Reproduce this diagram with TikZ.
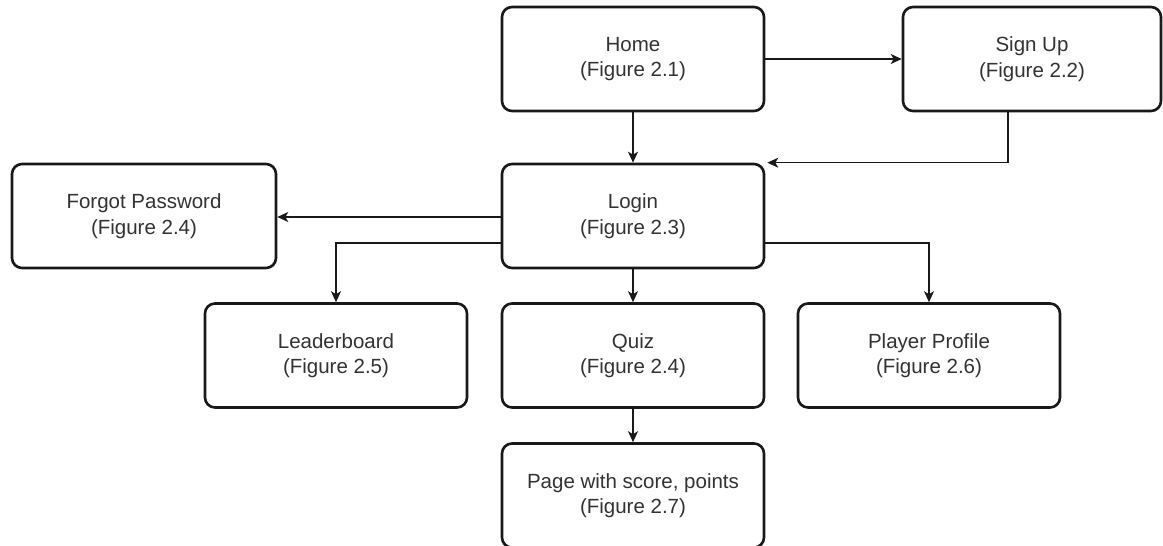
\documentclass[tikz,border=0pt]{standalone}
\usepackage{fontspec}
\setmainfont{Liberation Sans}
\usetikzlibrary{arrows.meta,calc}
\begin{document}
\begin{tikzpicture}[x=1pt,y=-1pt,
  screen/.style={draw=black!90, line width=2.6pt, rounded corners=10pt, fill=white,
    minimum width=262pt, minimum height=104pt, inner sep=0pt, align=center,
    text=black!80, font=\fontsize{20.5}{25.5}\selectfont},
  arr/.style={draw=black!90, line width=1.4pt, -{Stealth[length=11pt,width=10pt,inset=3pt]}}
]
\useasboundingbox (0,0) rectangle (1163,546);
\node[screen] (home) at (633,59) {Home\\(Figure 2.1)};
\node[screen, minimum width=258pt] (signup) at (1032,59) {Sign Up\\(Figure 2.2)};
\node[screen] (login) at (633,216) {Login\\(Figure 2.3)};
\node[screen, minimum width=264pt] (forgot) at (144,216) {Forgot Password\\(Figure 2.4)};
\node[screen] (leader) at (336,355.5) {Leaderboard\\(Figure 2.5)};
\node[screen] (quiz) at (633,355.5) {Quiz\\(Figure 2.4)};
\node[screen] (profile) at (929,355.5) {Player Profile\\(Figure 2.6)};
\node[screen] (page) at (633,495.5) {Page with score, points\\(Figure 2.7)};

\draw[arr] (home.south) -- (login.north);
\draw[arr] (home.east) -- (signup.west);
\draw[arr] ([xshift=-24pt]signup.south) |- ([xshift=2pt]login.north east);
\draw[arr] ([yshift=-1pt]login.west) -- ([yshift=-1pt]forgot.east);
\draw[arr] ([yshift=-27pt]login.west) -| (leader.north);
\draw[arr] (login.south) -- (quiz.north);
\draw[arr] ([yshift=-27pt]login.east) -| (profile.north);
\draw[arr] (quiz.south) -- (page.north);
\end{tikzpicture}
\end{document}
